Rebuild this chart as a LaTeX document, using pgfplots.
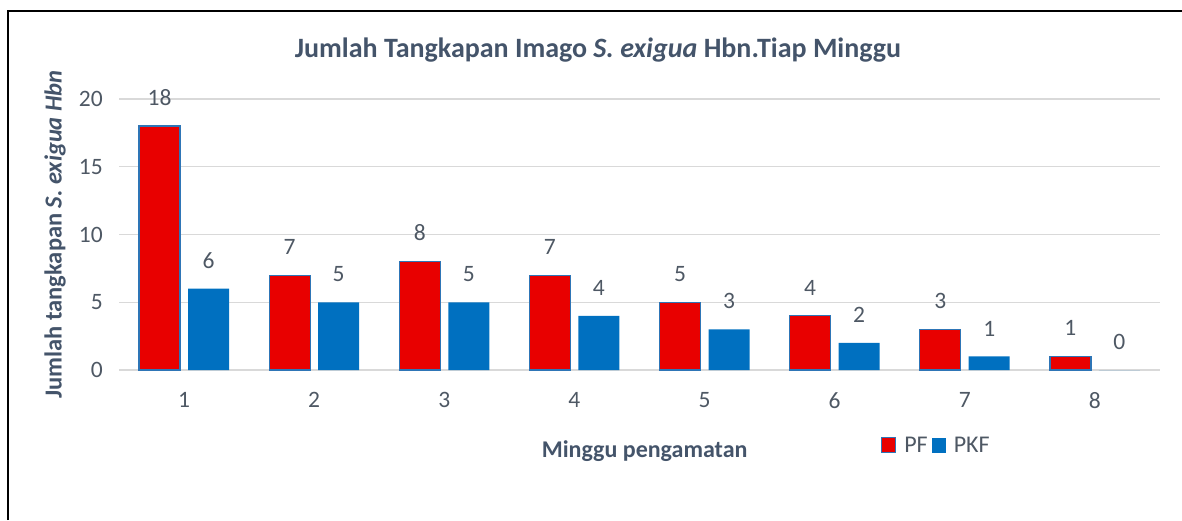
\documentclass[border=0pt]{standalone}
\usepackage{pgfplots}
\pgfplotsset{compat=1.18}
\usepackage{fontspec}
\setmainfont{Carlito}
\definecolor{txt}{HTML}{4E5864}
\definecolor{ttl}{HTML}{44546A}
\definecolor{redbar}{HTML}{E80000}
\definecolor{bluebar}{HTML}{0070C0}
\definecolor{edge}{HTML}{2E75B6}
\definecolor{gridc}{HTML}{D9D9D9}
\begin{document}
\begin{tikzpicture}
\useasboundingbox (0,0) rectangle (1182pt,520pt);
\draw[line width=2pt,black] (8pt,0pt) -- (8pt,509pt) -- (1182pt,509pt);
\node[font=\fontsize{28}{32}\selectfont\bfseries, text=ttl, inner sep=0pt] at (598pt,470pt) {Jumlah Tangkapan Imago \textit{S. exigua} Hbn.Tiap Minggu};
\begin{axis}[
  at={(119pt,150pt)}, anchor=origin,
  scale only axis, width=1041pt, height=271pt,
  xmin=0.5, xmax=8.5, ymin=0, ymax=20,
  ybar=8pt, bar width=41pt,
  xtick={1,...,8}, ytick={0,5,10,15,20},
  axis line style={draw=none},
  major tick length=0pt,
  ymajorgrids, grid style={gridc, line width=1.2pt},
  ticklabel style={font=\fontsize{23.5}{27}\selectfont, text=txt, inner sep=0pt},
  yticklabel style={xshift=-16pt},
  xticklabel style={yshift=-22pt},
  /pgf/number format/assume math mode=true,
  xlabel={Minggu pengamatan},
  xlabel style={font=\fontsize{24}{28}\selectfont\bfseries, text=ttl, at={(axis description cs:0.505,-0.299)}, anchor=center, inner sep=0pt},
  ylabel={Jumlah tangkapan \textit{S. exigua Hbn}},
  ylabel style={font=\fontsize{24.5}{28}\selectfont\bfseries, text=ttl, at={(axis description cs:-0.0615,0.5)}, anchor=center, inner sep=0pt, rotate=0},
  nodes near coords,
  every node near coord/.append style={font=\fontsize{23.5}{27}\selectfont, text=txt, inner sep=0pt, yshift=20pt},
  legend columns=2,
  legend style={draw=none, fill=none, at={(axis description cs:0.729,-0.277)}, anchor=west, font=\fontsize{24}{28}\selectfont, text=txt, /tikz/every even column/.append style={column sep=2pt}, /tikz/every odd column/.append style={column sep=6pt}},
  clip=false,
]
\addplot[fill=redbar, draw=edge, line width=1.3pt,
  legend image code/.code={\draw[fill=redbar, draw=edge, line width=1.3pt] (0pt,-7.5pt) rectangle (14pt,7.5pt);}]
  coordinates {(1,18) (2,7) (3,8) (4,7) (5,5) (6,4) (7,3) (8,1)};
\addplot[fill=bluebar, draw=none,
  legend image code/.code={\path[fill=bluebar] (0pt,-7.5pt) rectangle (14pt,7.5pt);}]
  coordinates {(1,6) (2,5) (3,5) (4,4) (5,3) (6,2) (7,1) (8,0)};
\legend{PF, PKF}
\end{axis}
\end{tikzpicture}
\end{document}
